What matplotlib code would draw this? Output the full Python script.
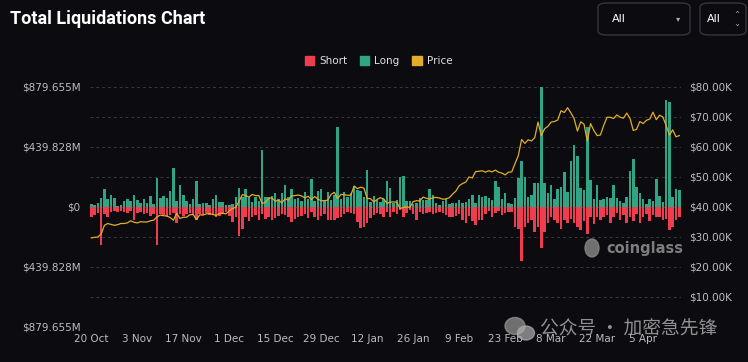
import numpy as np
import matplotlib
matplotlib.use("Agg")
import matplotlib.pyplot as plt
from matplotlib.patches import FancyBboxPatch, Patch, Ellipse

# daily values, 20 Oct 2023 -> 16 Apr 2024 (in $M)
long_liq = [22, 15, 29, 66, 132, 59, 88, 66, 7, 15,
            44, 59, 44, 88, 51, 29, 59, 29, 81, 22,
            213, 66, 81, 66, 117, 286, 44, 161, 88, 44,
            22, 59, 191, 22, 29, 29, 15, 59, 88, 37,
            37, 15, 15, 22, 73, 139, 73, 132, 73, 37,
            73, 44, 418, 73, 73, 81, 103, 59, 103, 161,
            73, 132, 59, 66, 44, 110, 59, 205, 44, 117,
            132, 44, 110, 51, 88, 586, 59, 110, 73, 103,
            147, 125, 117, 73, 271, 37, 81, 51, 37, 59,
            191, 139, 29, 51, 220, 227, 44, 44, 22, 29,
            66, 51, 51, 132, 88, 29, 15, 44, 59, 22,
            29, 29, 51, 29, 37, 59, 88, 29, 88, 73,
            81, 66, 51, 191, 147, 59, 103, 29, 22, 66,
            213, 337, 220, 73, 88, 176, 176, 879.655, 176, 103,
            161, 59, 132, 147, 257, 110, 337, 454, 374, 139,
            125, 586, 198, 59, 161, 51, 59, 73, 66, 161,
            66, 44, 29, 73, 264, 352, 147, 103, 59, 22,
            59, 44, 205, 81, 37, 784, 770, 73, 132, 125]

short_liq = [73, 59, 44, 279, 51, 73, 37, 29, 37, 29,
             37, 44, 29, 95, 44, 37, 51, 44, 66, 51,
             279, 51, 59, 73, 59, 44, 117, 51, 66, 51,
             44, 59, 95, 51, 59, 44, 59, 51, 73, 66,
             51, 37, 66, 110, 73, 213, 161, 73, 103, 73,
             59, 95, 51, 88, 73, 95, 81, 66, 51, 59,
             73, 110, 88, 73, 66, 51, 81, 37, 73, 95,
             66, 51, 95, 95, 95, 81, 73, 51, 37, 44,
             51, 110, 154, 147, 117, 81, 59, 44, 51, 73,
             37, 73, 37, 51, 22, 73, 44, 22, 51, 95,
             37, 51, 44, 37, 51, 44, 37, 44, 59, 73,
             73, 66, 51, 95, 117, 66, 103, 132, 95, 95,
             51, 29, 73, 44, 29, 59, 44, 37, 37, 147,
             161, 396, 147, 117, 95, 183, 147, 301, 183, 117,
             73, 95, 117, 161, 95, 117, 88, 117, 147, 169,
             103, 198, 73, 125, 73, 95, 73, 59, 117, 73,
             44, 95, 59, 117, 73, 103, 51, 117, 73, 51,
             103, 59, 73, 73, 95, 88, 169, 147, 95, 73]

# BTC price ($K)
price = [29.7, 29.9, 30.0, 31.0, 33.9, 34.5, 34.2, 33.9, 34.1, 34.5, 34.5, 34.7,
         35.4, 34.9, 34.7, 35.1, 35.0, 35.0, 35.4, 35.6, 36.7, 37.3, 37.1, 37.0, 36.5, 35.6, 37.9,
         36.2, 36.6, 36.6, 37.4, 37.5, 35.8, 37.4, 37.3, 37.7, 37.8, 37.5, 37.2, 37.8, 37.9, 37.7,
         38.7, 39.5, 39.9, 42.0, 44.1, 43.8, 43.3, 44.2, 43.8, 43.8, 41.2, 41.5, 42.9, 43.0, 41.9,
         42.3, 41.4, 42.7, 42.3, 43.7, 43.8, 44.0, 43.7, 43.0, 43.6, 42.5, 43.5, 42.6, 42.1, 42.1, 42.3,
         44.2, 44.9, 42.8, 44.2, 44.1, 43.9, 43.9, 47.0, 46.1, 46.6, 46.3, 42.8, 42.8, 41.7, 42.5,
         43.1, 42.7, 41.2, 41.6, 41.7, 41.6, 39.5, 39.8, 40.0, 39.9, 41.8, 42.1, 42.0, 43.3, 42.9, 42.6,
         43.1, 43.2, 43.0, 42.6, 42.7, 43.1, 44.3, 45.3, 47.1, 47.8, 48.3, 50.0, 49.7, 51.8, 51.9,
         52.1, 51.6, 52.1, 51.7, 52.3, 51.6, 51.3, 50.7, 51.6, 51.7, 54.5, 57.1, 62.5, 61.2,
         62.4, 62.0, 63.1, 68.3, 63.8, 66.1, 66.9, 68.3, 68.5, 69.0, 72.1, 71.5, 73.1, 71.4, 69.4,
         65.3, 68.4, 67.6, 62.0, 67.8, 65.5, 63.8, 64.0, 67.2, 69.9, 69.9, 69.5, 70.7, 69.9, 69.6, 71.3,
         69.6, 65.5, 65.9, 68.5, 67.8, 68.9, 69.3, 71.6, 69.1, 70.6, 70.0, 67.2, 64.0, 65.7, 63.4, 63.8]

x_labels = ['20 Oct', '3 Nov', '17 Nov', '1 Dec', '15 Dec', '29 Dec', '12 Jan',
            '26 Jan', '9 Feb', '23 Feb', '8 Mar', '22 Mar', '5 Apr']
left_labels = ['$879.655M', '', '$439.828M', '', '$0', '', '$439.828M', '', '$879.655M']
right_labels = ['', '$10.00K', '$20.00K', '$30.00K', '$40.00K', '$50.00K', '$60.00K', '$70.00K', '$80.00K']

bg = '#0b0b10'
green = '#2fa585'
red = '#ee3d4f'
yellow = '#e2ad2a'
tick_col = '#bdbdbd'

fig = plt.figure(figsize=(7.48, 3.62), dpi=100, facecolor=bg)
ax = fig.add_axes([0.1203, 0.0967, 0.790, 0.663])
ax.set_facecolor(bg)

x = np.arange(len(long_liq))
ax.bar(x, long_liq, width=0.76, color=green, zorder=2)
ax.bar(x, -np.array(short_liq), width=0.76, color=red, zorder=2)

ymax = 879.655
ax.set_ylim(-ymax, ymax)
ax.set_xlim(-0.4, 179.5)
ax.set_yticks(np.linspace(ymax, -ymax, 9))
ax.set_yticklabels(left_labels)
ax.set_xticks(np.arange(0, 169, 14))
ax.set_xticklabels(x_labels)
ax.tick_params(axis='both', length=0, colors=tick_col, labelsize=7.5)
ax.tick_params(axis='y', pad=7)
ax.tick_params(axis='x', pad=5)
ax.grid(axis='y', color='#3a3a3e', linestyle=(0, (3, 3)), linewidth=0.7)
ax.set_axisbelow(True)
for s in ax.spines.values():
    s.set_visible(False)

ax2 = ax.twinx()
ax2.plot(x, np.array(price) * 1000, color=yellow, linewidth=0.9, zorder=3)
ax2.set_ylim(0, 80000)
ax2.set_yticks(np.arange(0, 80001, 10000))
ax2.set_yticklabels(right_labels)
ax2.tick_params(axis='y', length=0, colors=tick_col, labelsize=7.5, pad=6)
for s in ax2.spines.values():
    s.set_visible(False)

# title
fig.text(10 / 748, 1 - 19 / 362, 'Total Liquidations Chart', color='white',
         fontsize=13, fontweight='bold', family='Roboto', va='center', ha='left')

# dropdown boxes
def fig_box(x0, y0, x1, y1):
    w, h = 748, 362
    b = FancyBboxPatch((x0 / w, 1 - y1 / h), (x1 - x0) / w, (y1 - y0) / h,
                       boxstyle='round,pad=0,rounding_size=0.012',
                       transform=fig.transFigure, facecolor='none',
                       edgecolor='#3a3a40', linewidth=0.9)
    fig.patches.append(b)

fig_box(598, 3, 690, 35)
fig_box(700, 3, 746, 35)
fig.text(612 / 748, 1 - 19 / 362, 'All', color='white', fontsize=8, va='center')
fig.text(676 / 748, 1 - 19 / 362, '▾', color='#aaaaaa', fontsize=6, va='center')
fig.text(707 / 748, 1 - 19 / 362, 'All', color='white', fontsize=8, va='center')
fig.text(733 / 748, 1 - 15 / 362, '⌃', color='#aaaaaa', fontsize=6, va='center')
fig.text(733 / 748, 1 - 23 / 362, '⌄', color='#aaaaaa', fontsize=6, va='center')

# legend
handles = [Patch(color=red, label='Short'), Patch(color=green, label='Long'),
           Patch(color=yellow, label='Price')]
fig.legend(handles=handles, loc='center', bbox_to_anchor=(0.506, 1 - 61 / 362), ncol=3,
           frameon=False, fontsize=7.5, labelcolor='#e0e0e0', handlelength=0.9,
           handleheight=0.9, handletextpad=0.5, columnspacing=1.2)

# watermarks
fig.patches.append(Ellipse((592 / 748, 1 - 248 / 362), 14 / 748, 18 / 362,
                           transform=fig.transFigure, color='#8a8a8a', alpha=0.8))
fig.text(606 / 748, 1 - 248 / 362, 'coinglass', color='#8a8a8a', fontsize=10.5,
         fontweight='bold', va='center', ha='left', alpha=0.9)
fig.patches.append(Ellipse((515 / 748, 1 - 326 / 362), 20 / 748, 17 / 362,
                           transform=fig.transFigure, color='#9a9a9a', alpha=0.7))
fig.patches.append(Ellipse((526 / 748, 1 - 333 / 362), 17 / 748, 14 / 362,
                           transform=fig.transFigure, color='#b0b0b0', alpha=0.7))
fig.text(540 / 748, 1 - 329 / 362, '公众号 · 加密急先锋', color='#a8a8a8', fontsize=13.5,
         family=['Noto Sans CJK SC', 'DejaVu Sans'], va='center', ha='left', alpha=0.85)

fig.savefig('out.png', dpi=100, facecolor=bg)
